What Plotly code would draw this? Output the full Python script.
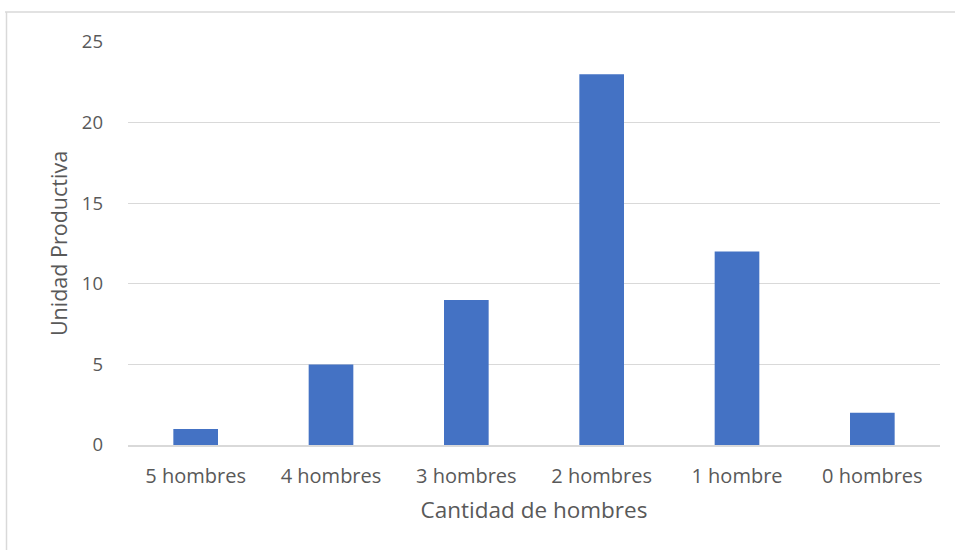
import plotly.graph_objects as go

# Productive units by number of men
categorias = ["5 hombres", "4 hombres", "3 hombres", "2 hombres", "1 hombre", "0 hombres"]
unidades = [1, 5, 9, 23, 12, 2]
y_ticks = [0, 5, 10, 15, 20, 25]

W, H = 955, 550
L, R, T, B = 128, 15, 42, 105
plot_w = W - L - R
plot_h = H - T - B


def px_x(px):
    return (px - L) / plot_w


def px_y(py):
    return (H - B - py) / plot_h


font_family = "Open Sans, Noto Sans, sans-serif"
text_color = "#595959"
grid_color = "#d9d9d9"

fig = go.Figure(
    go.Bar(
        x=categorias,
        y=unidades,
        marker=dict(color="#4472C4", line=dict(width=0)),
        width=0.33,
        hoverinfo="x+y",
    )
)

fig.update_layout(
    width=W,
    height=H,
    margin=dict(l=L, r=R, t=T, b=B),
    paper_bgcolor="white",
    plot_bgcolor="white",
    showlegend=False,
    font=dict(family=font_family, color=text_color, size=18),
    xaxis=dict(
        title=dict(text="Cantidad de hombres", font=dict(size=22.5, color=text_color), standoff=14),
        showgrid=False,
        showline=True,
        linecolor=grid_color,
        linewidth=1.5,
        ticks="",
        ticklabelstandoff=12,
        tickfont=dict(size=20, color=text_color),
    ),
    yaxis=dict(
        title=dict(text="Unidad Productiva", font=dict(size=21.5, color=text_color), standoff=8),
        range=[0, 25],
        tickvals=y_ticks,
        showgrid=True,
        gridcolor=grid_color,
        gridwidth=1.3,
        zeroline=False,
        showline=False,
        ticks="",
        ticklabelstandoff=24,
        tickfont=dict(size=18.5, color=text_color),
    ),
    shapes=[
        # chart frame, top and left edges
        dict(type="line", xref="paper", yref="paper",
             x0=px_x(5), x1=px_x(W + 2), y0=px_y(12), y1=px_y(12),
             line=dict(color=grid_color, width=1.5)),
        dict(type="line", xref="paper", yref="paper",
             x0=px_x(6.5), x1=px_x(6.5), y0=px_y(12), y1=px_y(H + 2),
             line=dict(color=grid_color, width=1.5)),
    ],
)

fig.write_html("out.html")
